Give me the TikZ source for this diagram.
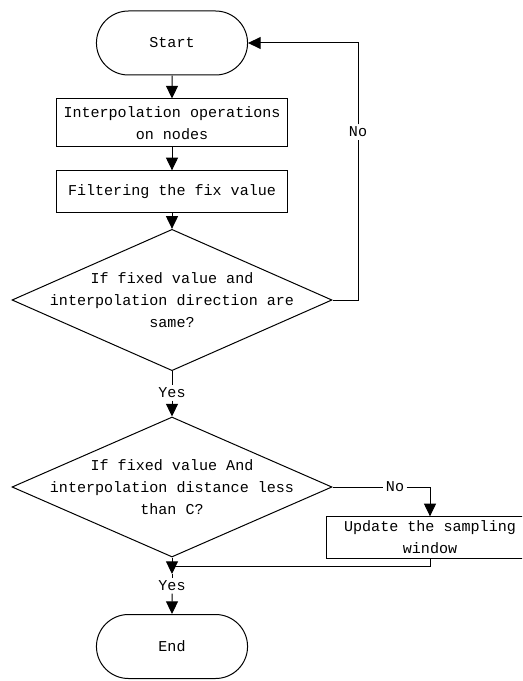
\documentclass[tikz,border=0pt]{standalone}
\usepackage{fontspec}
\setmonofont{Liberation Mono}
\usetikzlibrary{shapes.geometric, shapes.misc, arrows.meta, positioning}

\begin{document}
\begin{tikzpicture}[x=0.75pt, y=-0.75pt, line width=0.75pt,
  every node/.style={font=\ttfamily\fontsize{11.3}{16.5}\selectfont},
  term/.style={rounded rectangle, draw, minimum width=120pt, minimum height=48pt},
  proc/.style={rectangle, draw, align=center, minimum width=173pt, inner sep=2pt},
  decision/.style={diamond, draw, minimum width=240pt, minimum height=106pt, inner sep=0pt},
  tag/.style={inner sep=1.5pt},
  arr/.style={-{Triangle[length=9.5pt,width=9pt]}}]
\useasboundingbox (0,0) rectangle (522,681);
\clip (0,0) rectangle (522,681);
% Nodes
\node[term] (start) at (172,43) {Start};
\node[proc, minimum height=36pt] (interp) at (172,123) {Interpolation operations\\on nodes};
\node[proc, minimum height=31pt] (filter) at (172,191.5) {Filtering the fix value};
\node[decision] (same) at (172,300) {};
\node[align=center] (sametext) at (same) {If fixed value and\\interpolation direction are\\same?};
\node[tag] (yes1) at (172,393) {Yes};
\node[decision, minimum height=105pt] (dist) at (172,487) {};
\node[align=center] (disttext) at (dist) {If fixed value And\\interpolation distance less\\than C?};
\node[tag] (no2) at (395,487) {No};
\node[proc, minimum width=156pt, minimum height=31pt] (update) at (430,537.5) {Update the sampling\\window};
\coordinate (merge) at (172,574);
\coordinate (join) at (172,566);
\node[tag] (yes2) at (172,586) {Yes};
\node[term] (end) at (172,646.5) {End};
\node[tag] (no1) at (358,132) {No};
% Connectors
\draw[arr] (start) -- (interp);
\draw[arr] (interp) -- (filter);
\draw[arr] (filter) -- (same);
\draw (same.east) -| (no1);
\draw[arr] (no1) |- (start);
\draw (same) -- (yes1);
\draw[arr] (yes1) -- (dist);
\draw (dist.east) -- (no2);
\draw[arr] (no2) -| (update);
\draw[arr] (dist) -- (merge);
\draw (update) |- (join);
\draw (merge) -- (yes2);
\draw[arr] (yes2) -- (end);
\end{tikzpicture}
\end{document}
